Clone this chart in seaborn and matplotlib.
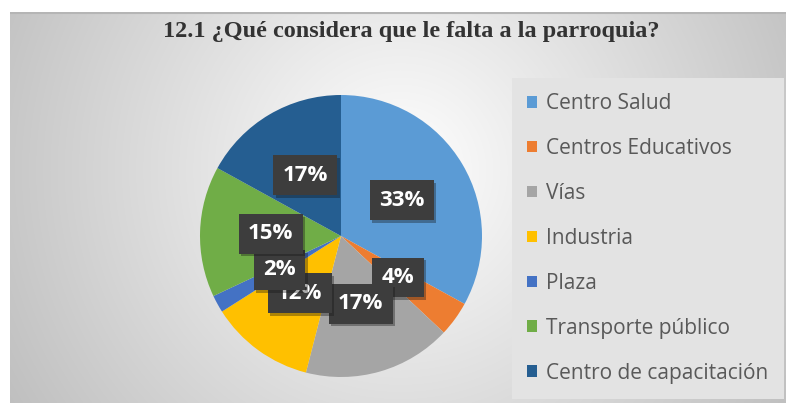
import numpy as np
import matplotlib
matplotlib.use("Agg")
import matplotlib.pyplot as plt
import matplotlib.patheffects as pe
from matplotlib.patches import Patch
import seaborn as sns

# Survey answers: what the parish is missing (share of responses, %)
categories = ["Centro Salud", "Centros Educativos", "Vías", "Industria",
              "Plaza", "Transporte público", "Centro de capacitación"]
shares = [33, 4, 17, 12, 2, 15, 17]
title = "12.1 ¿Qué considera que le falta a la parroquia?"
slice_colors = ["#5B9BD5", "#ED7D31", "#A5A5A5", "#FFC000",
                "#4472C4", "#70AD47", "#255E91"]

sns.set_style("white")
palette = sns.color_palette(slice_colors)
plt.rcParams["font.family"] = ["Open Sans", "DejaVu Sans"]

W, H = 786, 403
fig = plt.figure(figsize=(W / 100, H / 100), dpi=100)
fig.patch.set_facecolor("white")

# Chart area with a radial grey gradient
x0, y0 = 10, 12
bg = fig.add_axes([x0 / W, 0, 1 - x0 / W, (H - y0) / H])
yy, xx = np.mgrid[y0:H, x0:W]
d = np.hypot(xx - 400, yy - 170)
v = np.clip(255 - 63 * d / 450, 0, 255) / 255
img = np.dstack([v, v, v])
bg.imshow(img, aspect="auto", extent=[0, 1, 0, 1], interpolation="bilinear")
bg.plot([0, 1], [0.997, 0.997], color="#b5b5b5", lw=1.5, transform=bg.transAxes)
bg.set_axis_off()

# Pie axes
cx, cy, r = 341, 236, 141
ax = fig.add_axes([(cx - r) / W, (H - cy - r) / H, 2 * r / W, 2 * r / H])
ax.set_facecolor("none")
wedges, _, autotexts = ax.pie(
    shares, colors=palette, startangle=90, counterclock=False,
    autopct="%1.0f%%", pctdistance=0.5, radius=1,
    wedgeprops=dict(linewidth=0),
    textprops=dict(color="white", fontsize=16, fontweight="bold"),
)
for i, t in enumerate(autotexts):
    t.set_zorder(10 + i)
    t.set_bbox(dict(boxstyle="square,pad=0.42", facecolor="#3d3d3d",
                    edgecolor="none"))
    t.get_bbox_patch().set_path_effects(
        [pe.SimplePatchShadow(offset=(2, -2), alpha=0.35), pe.Normal()])
ax.set_xlim(-1, 1)
ax.set_ylim(-1, 1)
ax.set_aspect("equal")
ax.set_axis_off()

fig.text(411 / W, 1 - 31 / H, title, ha="center", va="center",
         fontsize=17.5, fontweight="bold", color="#333333",
         family=["Liberation Serif", "DejaVu Serif"])

handles = [Patch(facecolor=c, edgecolor="none") for c in palette]
leg = fig.legend(handles, categories, loc="upper left",
                 bbox_to_anchor=(512 / W, 1 - 78 / H),
                 frameon=True, fontsize=15, labelcolor="#595959",
                 handlelength=0.5, handleheight=0.5, handletextpad=0.43,
                 labelspacing=1.15, borderpad=0.72, borderaxespad=0,
                 fancybox=False)
leg.get_frame().set_facecolor("#e3e3e3")
leg.get_frame().set_edgecolor("none")
leg.get_frame().set_alpha(1)

fig.savefig("out.png", dpi=100)
